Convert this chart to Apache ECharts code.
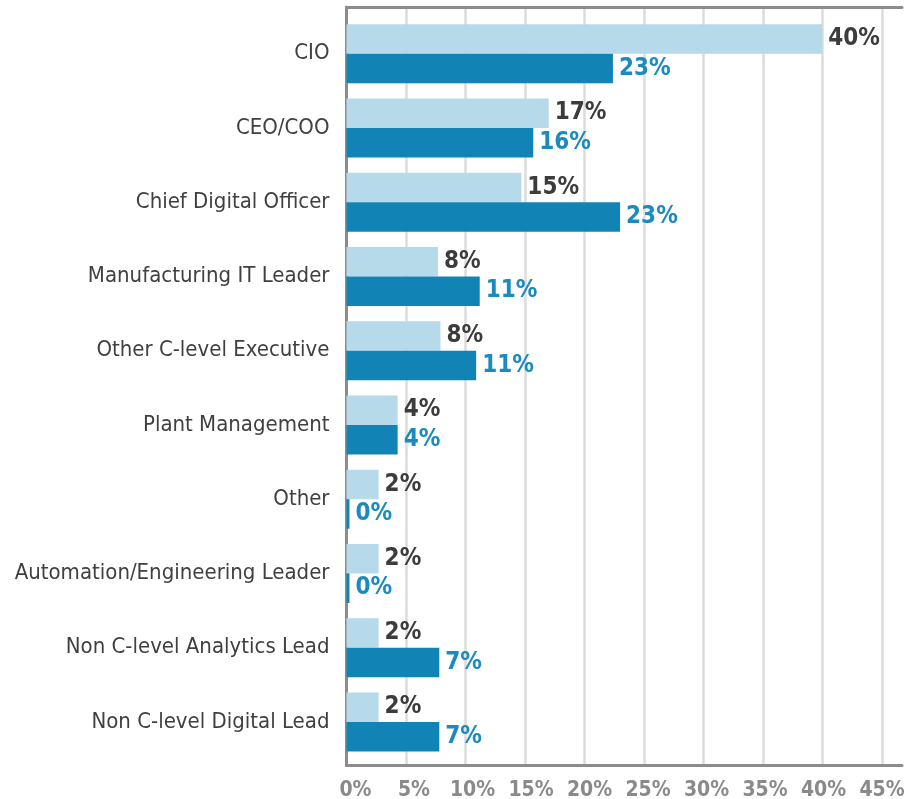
<!DOCTYPE html>
<html>
<head>
<meta charset="utf-8">
<script src="https://cdn.jsdelivr.net/npm/echarts@6/dist/echarts.min.js"></script>
<style>
  html, body { margin: 0; padding: 0; background: #fff; }
  #chart { width: 920px; height: 799px; }
</style>
</head>
<body>
<div id="chart"></div>
<script>
// categories, top to bottom
var roles = ['CIO', 'CEO/COO', 'Chief Digital Officer', 'Manufacturing IT Leader',
  'Other C-level Executive', 'Plant Management', 'Other', 'Automation/Engineering Leader',
  'Non C-level Analytics Lead', 'Non C-level Digital Lead'];
// printed percentages
var lightPct = [40, 17, 15, 8, 8, 4, 2, 2, 2, 2];
var darkPct = [23, 16, 23, 11, 11, 4, 0, 0, 7, 7];
// bar lengths as measured on the picture (%)
var lightBar = [40, 17, 14.7, 7.7, 7.9, 4.3, 2.7, 2.7, 2.7, 2.7];
var darkBar = [22.4, 15.7, 23, 11.2, 10.9, 4.3, 0.25, 0.25, 7.8, 7.8];
var xTicks = [0, 5, 10, 15, 20, 25, 30, 35, 40, 45];

var FONT = '"Liberation Sans Narrow", "DejaVu Sans Condensed", sans-serif';
var xMax = 46.7;

var chart = echarts.init(document.getElementById('chart'));
chart.setOption({
  animation: false,
  grid: [
    // frame: axes + gridlines
    { left: 346.5, right: 18, top: 7, bottom: 33.5, outerBoundsMode: 'none', containLabel: false },
    // bars
    { left: 346.5, right: 18, top: 16.6, bottom: 39.9, outerBoundsMode: 'none', containLabel: false },
    // tick labels (printed slightly off the gridlines in the source)
    { left: 355.5, right: 38, top: 7, bottom: 33.5, outerBoundsMode: 'none', containLabel: false }
  ],
  xAxis: [
    {
      gridIndex: 0, type: 'value', min: 0, max: xMax, interval: 5,
      axisLine: { show: true, lineStyle: { color: '#8c8c8c', width: 3 } },
      axisTick: { show: false }, axisLabel: { show: false },
      splitLine: { show: true, showMinLine: false, showMaxLine: false,
        lineStyle: { color: '#dcdcdc', width: 2.5 } }
    },
    {
      gridIndex: 0, type: 'value', position: 'top', min: 0, max: xMax,
      axisLine: { show: true, lineStyle: { color: '#8c8c8c', width: 3 } },
      axisTick: { show: false }, axisLabel: { show: false }, splitLine: { show: false }
    },
    {
      gridIndex: 1, type: 'value', min: 0, max: xMax, show: false
    },
    {
      gridIndex: 2, type: 'category', data: xTicks, boundaryGap: false,
      axisLine: { show: false }, axisTick: { show: false }, splitLine: { show: false },
      axisLabel: {
        margin: 15, interval: 0,
        fontFamily: FONT, fontSize: 21, fontWeight: 'bold', color: '#8a8a8a',
        formatter: function (v) { return v + '%'; }
      }
    }
  ],
  yAxis: [
    {
      gridIndex: 0, type: 'value', offset: 2,
      axisLine: { show: true, lineStyle: { color: '#8c8c8c', width: 3 } },
      axisTick: { show: false }, axisLabel: { show: false }, splitLine: { show: false }
    },
    {
      gridIndex: 1, type: 'category', inverse: true, data: roles,
      axisLine: { show: false }, axisTick: { show: false },
      axisLabel: { margin: 17, fontFamily: FONT, fontSize: 22, color: '#404040' }
    },
    {
      gridIndex: 2, type: 'value', show: false
    }
  ],
  series: [
    {
      type: 'bar', xAxisIndex: 2, yAxisIndex: 1,
      data: lightBar, barWidth: 29.5, barGap: '0%',
      itemStyle: { color: '#b6daea' },
      label: {
        show: true, position: 'right', distance: 6,
        fontFamily: FONT, fontSize: 24, fontWeight: 'bold', color: '#3c3c3c',
        formatter: function (p) { return lightPct[p.dataIndex] + '%'; }
      }
    },
    {
      type: 'bar', xAxisIndex: 2, yAxisIndex: 1,
      data: darkBar, barWidth: 29.5, barGap: '0%',
      itemStyle: { color: '#1283b5' },
      label: {
        show: true, position: 'right', distance: 6,
        fontFamily: FONT, fontSize: 24, fontWeight: 'bold', color: '#1a8abf',
        formatter: function (p) { return darkPct[p.dataIndex] + '%'; }
      }
    }
  ]
});
window.addEventListener('resize', function () { chart.resize(); });
</script>
</body>
</html>
